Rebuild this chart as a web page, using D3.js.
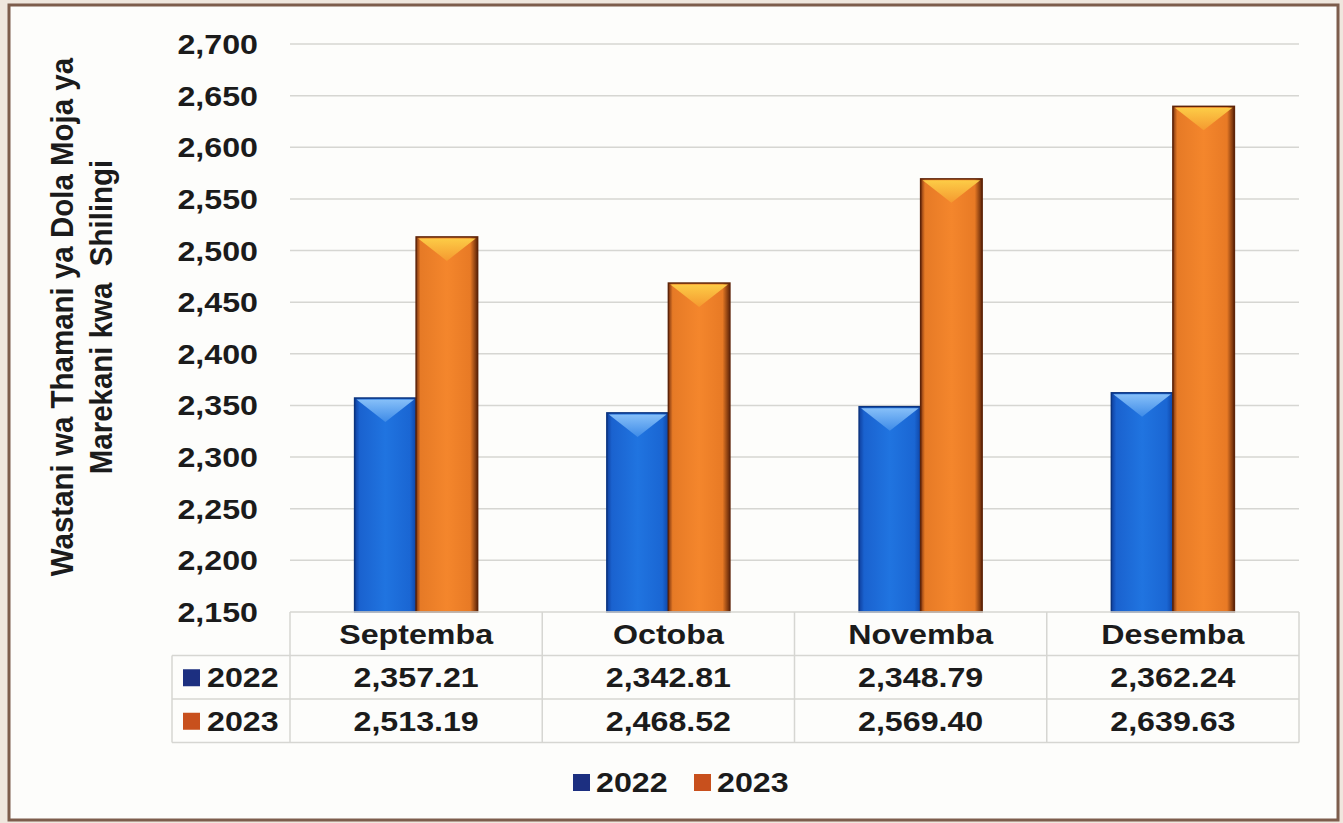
<!DOCTYPE html>
<html>
<head>
<meta charset="utf-8">
<script src="https://cdn.jsdelivr.net/npm/d3@7"></script>
<style>
  html, body { margin: 0; padding: 0; background: #efe7de; }
  svg { display: block; }
  text { font-family: "Liberation Sans", Arial, sans-serif; font-weight: bold; fill: #1b1b1b; }
</style>
</head>
<body>
<svg id="chart"></svg>
<script>
// data
var categories = ["Septemba", "Octoba", "Novemba", "Desemba"];
var years = ["2022", "2023"];
var values2022 = [2357.21, 2342.81, 2348.79, 2362.24];
var values2023 = [2513.19, 2468.52, 2569.40, 2639.63];
var yTickValues = [2150, 2200, 2250, 2300, 2350, 2400, 2450, 2500, 2550, 2600, 2650, 2700];
var yTitleLines = ["Wastani wa Thamani ya Dola Moja ya", "Marekani kwa\u00a0\u00a0Shilingi"];

var W = 1343, H = 823;
var plotL = 290, plotR = 1299, plotT = 44, plotB = 612;
var rowH = 43.5;
var stretch = 1.15;   // the photo is wider than it is tall, so text looks stretched

var svg = d3.select('#chart').attr('width', W).attr('height', H);

var series = [
  { year: "2022", values: values2022, body: "grad2022", top: "top2022", key: "#1c2f80", edge: "#0b347f" },
  { year: "2023", values: values2023, body: "grad2023", top: "top2023", key: "#c8501d", edge: "#5e2408" }
];

// gradients
var defs = svg.append('defs');
function hGrad(id, stops) {
  var g = defs.append('linearGradient').attr('id', id).attr('x1', 0).attr('x2', 1).attr('y1', 0).attr('y2', 0);
  stops.forEach(function(s){ g.append('stop').attr('offset', s[0]).attr('stop-color', s[1]); });
}
function vGrad(id, stops) {
  var g = defs.append('linearGradient').attr('id', id).attr('x1', 0).attr('x2', 0).attr('y1', 0).attr('y2', 1);
  stops.forEach(function(s){ g.append('stop').attr('offset', s[0]).attr('stop-color', s[1]); });
}
hGrad('grad2022', [[0, '#0f3f9e'], [0.08, '#1a62cf'], [0.5, '#2074e0'], [0.9, '#1a66d3'], [1, '#0f45a6']]);
hGrad('grad2023', [[0, '#7a3310'], [0.07, '#e67a26'], [0.5, '#f4862c'], [0.88, '#e87a25'], [1, '#5e2408']]);
vGrad('top2022', [[0, '#8cc4fa'], [1, '#3f8ce8']]);
vGrad('top2023', [[0, '#fdd048'], [1, '#f59a30']]);

// frame
svg.append('rect').attr('x', 9).attr('y', 5).attr('width', 1329).attr('height', 815)
  .attr('fill', '#fdfdfb').attr('stroke', '#7d5d4c').attr('stroke-width', 3);

// scales
var y = d3.scaleLinear().domain([2150, 2700]).range([plotB, plotT]);
var x0 = d3.scaleBand().domain(categories).range([plotL, plotR]).padding(0);
var x1 = d3.scaleBand().domain(years).range([0, x0.bandwidth()]).paddingInner(0).paddingOuter(1.05);

function sText(sel, px, py, anchor, size) {
  return sel.append('g').attr('transform', 'translate(' + px + ',' + py + ') scale(' + stretch + ',1)')
    .append('text').attr('text-anchor', anchor).attr('font-size', size || 28);
}

// grid lines
svg.append('g').selectAll('line').data(yTickValues.filter(function(d){ return d > 2150; }))
  .enter().append('line')
  .attr('x1', plotL).attr('x2', plotR)
  .attr('y1', function(d){ return y(d); }).attr('y2', function(d){ return y(d); })
  .attr('stroke', '#d6d6d2').attr('stroke-width', 1.5);

// y axis labels
var fmtTick = d3.format(',');
yTickValues.forEach(function(t){
  sText(svg, 258, y(t) + 10, 'end').text(fmtTick(t));
});

// y title
yTitleLines.forEach(function(line, i){
  svg.append('g').attr('transform', 'translate(' + (73 + i * 39) + ',317) scale(1.08,1) rotate(-90)')
    .append('text').attr('text-anchor', 'middle').attr('font-size', 29.5).text(line);
});

// bars
var groups = svg.append('g').selectAll('g').data(categories).enter().append('g')
  .attr('transform', function(d){ return 'translate(' + x0(d) + ',0)'; });

series.forEach(function(s){
  groups.each(function(c, ci){
    var g = d3.select(this);
    var bx = x1(s.year), bw = x1.bandwidth(), by = y(s.values[ci]);
    g.append('rect').attr('x', bx).attr('y', by).attr('width', bw).attr('height', plotB - by)
      .attr('fill', 'url(#' + s.body + ')').attr('stroke', s.edge).attr('stroke-width', 1.5);
    g.append('path')
      .attr('d', 'M' + (bx + 2) + ',' + (by + 1.5) + 'L' + (bx + bw - 2) + ',' + (by + 1.5) + 'L' + (bx + bw / 2) + ',' + (by + 24) + 'Z')
      .attr('fill', 'url(#' + s.top + ')').attr('opacity', 0.95);
  });
});

// data table
var tableL = 172;
var table = svg.append('g');
var hLines = [plotB, plotB + rowH, plotB + 2 * rowH, plotB + 3 * rowH];
table.selectAll('line.h').data(hLines).enter().append('line')
  .attr('x1', function(d, i){ return i === 0 ? plotL : tableL; }).attr('x2', plotR)
  .attr('y1', function(d){ return d; }).attr('y2', function(d){ return d; })
  .attr('stroke', '#d6d6d2').attr('stroke-width', 1.5);
var vLines = categories.map(function(c){ return x0(c); }).concat([plotR]);
table.selectAll('line.v').data(vLines).enter().append('line')
  .attr('x1', function(d){ return d; }).attr('x2', function(d){ return d; })
  .attr('y1', plotB).attr('y2', plotB + 3 * rowH)
  .attr('stroke', '#d6d6d2').attr('stroke-width', 1.5);
table.append('line').attr('x1', tableL).attr('x2', tableL)
  .attr('y1', plotB + rowH).attr('y2', plotB + 3 * rowH)
  .attr('stroke', '#d6d6d2').attr('stroke-width', 1.5);

categories.forEach(function(c){
  sText(table, x0(c) + x0.bandwidth() / 2, plotB + rowH / 2 + 10, 'middle').text(c);
});

var fmtVal = d3.format(',.2f');
series.forEach(function(s, si){
  var cy = plotB + rowH * (si + 1) + rowH / 2;
  table.append('rect').attr('x', 183).attr('y', cy - 8).attr('width', 17).attr('height', 17)
    .attr('fill', s.key);
  sText(table, 207, cy + 10, 'start').text(s.year);
  s.values.forEach(function(v, ci){
    sText(table, x0(categories[ci]) + x0.bandwidth() / 2, cy + 10, 'middle').text(fmtVal(v));
  });
});

// legend
var legend = svg.append('g').attr('transform', 'translate(573,782)');
series.forEach(function(s, i){
  var lx = i * 121;
  legend.append('rect').attr('x', lx).attr('y', -8).attr('width', 17).attr('height', 17).attr('fill', s.key);
  sText(legend, lx + 23, 10, 'start').text(s.year);
});
</script>
</body>
</html>
